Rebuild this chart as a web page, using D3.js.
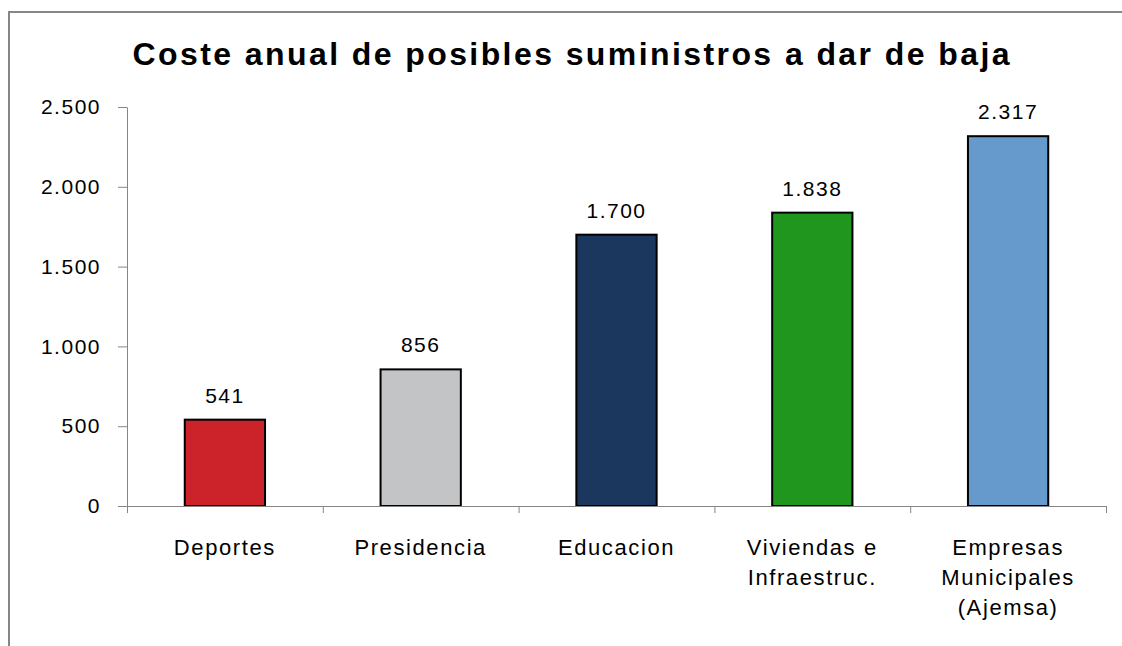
<!DOCTYPE html>
<html>
<head>
<meta charset="utf-8">
<script src="https://cdn.jsdelivr.net/npm/d3@7"></script>
<style>
  body { margin: 0; background: #fff; }
  svg { display: block; }
  text { font-family: "Liberation Sans", Arial, sans-serif; fill: #000; }
</style>
</head>
<body>
<svg width="1122" height="646"></svg>
<script>
const categories = [["Deportes"], ["Presidencia"], ["Educacion"], ["Viviendas e", "Infraestruc."], ["Empresas", "Municipales", "(Ajemsa)"]]
const values = [541, 856, 1700, 1838, 2317]
const valueLabels = ["541", "856", "1.700", "1.838", "2.317"]
const barColors = ["#cc2229", "#c3c4c6", "#1b375d", "#21961f", "#6699cc"]
const yTicks = [0, 500, 1000, 1500, 2000, 2500]
const yTickLabels = ["0", "500", "1.000", "1.500", "2.000", "2.500"]

let svg = d3.select("svg")

// outer frame (only top / left edges visible)
svg.append("rect")
  .attr("x", 9).attr("y", 12)
  .attr("width", 1300).attr("height", 1000)
  .attr("fill", "none")
  .attr("stroke", "#868686")
  .attr("stroke-width", 2)

svg.append("text")
  .attr("x", 571)
  .attr("y", 65)
  .attr("text-anchor", "middle")
  .attr("font-size", 32)
  .attr("font-weight", "bold")
  .attr("textLength", 877)
  .attr("lengthAdjust", "spacing")
  .text("Coste anual de posibles suministros a dar de baja")

let plotLeft = 127, plotRight = 1106, plotTop = 107, plotBottom = 506

let x = d3.scaleBand()
  .domain(d3.range(values.length))
  .range([plotLeft, plotRight])
  .paddingInner(0.59)
  .paddingOuter(0.295)

let xEdge = d3.scaleLinear().domain([0, values.length]).range([plotLeft, plotRight])
let y = d3.scaleLinear().domain([0, 2500]).range([plotBottom, plotTop])

// y axis
let yAxis = svg.append("g")
  .attr("transform", "translate(" + plotLeft + ",0)")
  .call(d3.axisLeft(y)
    .tickValues(yTicks)
    .tickFormat((d, i) => yTickLabels[i])
    .tickSize(9)
    .tickSizeOuter(0)
    .tickPadding(17))
yAxis.selectAll("line, path").attr("stroke", "#868686")
yAxis.selectAll("text")
  .attr("font-size", 21)
  .attr("letter-spacing", 1.5)
  .attr("font-family", "Liberation Sans, Arial, sans-serif")

// bars
svg.append("g").selectAll("rect")
  .data(values)
  .join("rect")
  .attr("x", (d, i) => x(i))
  .attr("y", d => y(d))
  .attr("width", x.bandwidth())
  .attr("height", d => y(0) - y(d))
  .attr("fill", (d, i) => barColors[i])
  .attr("stroke", "#000")
  .attr("stroke-width", 2)

// x axis with ticks at category boundaries
let xAxis = svg.append("g")
  .attr("transform", "translate(0," + plotBottom + ")")
  .call(d3.axisBottom(xEdge)
    .tickValues(d3.range(values.length + 1))
    .tickFormat("")
    .tickSize(7)
    .tickSizeOuter(0))
xAxis.selectAll("line, path").attr("stroke", "#868686")

// value labels
svg.append("g").selectAll("text")
  .data(values)
  .join("text")
  .attr("x", (d, i) => x(i) + x.bandwidth() / 2)
  .attr("y", d => y(d) - 17)
  .attr("text-anchor", "middle")
  .attr("font-size", 21)
  .attr("letter-spacing", 1.5)
  .text((d, i) => valueLabels[i])

// category labels
let cat = svg.append("g").selectAll("text")
  .data(categories)
  .join("text")
  .attr("x", (d, i) => x(i) + x.bandwidth() / 2)
  .attr("y", 555)
  .attr("text-anchor", "middle")
  .attr("font-size", 22)
  .attr("letter-spacing", 1.6)
cat.selectAll("tspan")
  .data((d, i) => d.map(t => ({ t: t, i: i })))
  .join("tspan")
  .attr("x", d => x(d.i) + x.bandwidth() / 2)
  .attr("dy", (d, j) => j === 0 ? 0 : 30)
  .text(d => d.t)
</script>
</body>
</html>
